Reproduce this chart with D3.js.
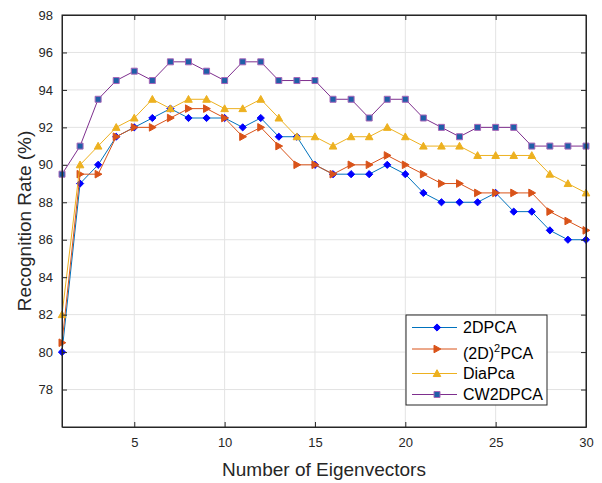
<!DOCTYPE html>
<html>
<head>
<meta charset="utf-8">
<script src="https://cdn.jsdelivr.net/npm/d3@7"></script>
<style>
  body { margin: 0; background: #fff; }
  svg { font-family: "Liberation Sans", Arial, sans-serif; }
</style>
</head>
<body>
<div class="chart"></div>
<script>
// x values (number of eigenvectors)
let eigen = d3.range(1, 31)
let yTicks = [78, 80, 82, 84, 86, 88, 90, 92, 94, 96, 98]
let xTicks = [5, 10, 15, 20, 25, 30]

let pca2d = [80, 89, 90, 91.5, 92, 92.5, 93, 92.5, 92.5, 92.5, 92, 92.5, 91.5, 91.5, 90,
    89.5, 89.5, 89.5, 90, 89.5, 88.5, 88, 88, 88, 88.5, 87.5, 87.5, 86.5, 86, 86]
let pca2d2 = [80.5, 89.5, 89.5, 91.5, 92, 92, 92.5, 93, 93, 92.5, 91.5, 92, 91, 90, 90,
    89.5, 90, 90, 90.5, 90, 89.5, 89, 89, 88.5, 88.5, 88.5, 88.5, 87.5, 87, 86.5]
let diaPca = [82, 90, 91, 92, 92.5, 93.5, 93, 93.5, 93.5, 93, 93, 93.5, 92.5, 91.5, 91.5,
    91, 91.5, 91.5, 92, 91.5, 91, 91, 91, 90.5, 90.5, 90.5, 90.5, 89.5, 89, 88.5]
let cw2dpca = [89.5, 91, 93.5, 94.5, 95, 94.5, 95.5, 95.5, 95, 94.5, 95.5, 95.5, 94.5, 94.5, 94.5,
    93.5, 93.5, 92.5, 93.5, 93.5, 92.5, 92, 91.5, 92, 92, 92, 91, 91, 91, 91]

let series = [
    { name: "2DPCA", values: pca2d, line: "#0072BD", fill: "#0000FF", stroke: "#0000FF", shape: "diamond" },
    { name: "(2D)2PCA", values: pca2d2, line: "#D95319", fill: "#D95319", stroke: "#D95319", shape: "right" },
    { name: "DiaPca", values: diaPca, line: "#EDB120", fill: "#EDB120", stroke: "#EDB120", shape: "up" },
    { name: "CW2DPCA", values: cw2dpca, line: "#7E2F8E", fill: "#1f5fa8", stroke: "#a866b8", shape: "square" }
]

let width = 602, height = 483
let plotLeft = 62, plotRight = 586, plotTop = 15, plotBottom = 427

let x = d3.scaleLinear().domain([1, 30]).range([plotLeft, plotRight])
let y = d3.scaleLinear().domain([76, 98]).range([plotBottom, plotTop])

let svg = d3.select(".chart").append("svg")
    .attr("width", width)
    .attr("height", height)

// grid
let grid = svg.append("g")
grid.selectAll("line.gx").data(xTicks).enter().append("line")
    .attr("x1", d => x(d)).attr("x2", d => x(d))
    .attr("y1", plotTop).attr("y2", plotBottom)
    .attr("stroke", "#e3e3e3").attr("stroke-width", 1)
grid.selectAll("line.gy").data(yTicks).enter().append("line")
    .attr("x1", plotLeft).attr("x2", plotRight)
    .attr("y1", d => y(d)).attr("y2", d => y(d))
    .attr("stroke", "#e3e3e3").attr("stroke-width", 1)

// marker path generator
function markerPath(shape) {
    if (shape == "diamond") return "M0,-3.6L3.6,0L0,3.6L-3.6,0Z"
    if (shape == "right") return "M-3,-3.8L3.8,0L-3,3.8Z"
    if (shape == "up") return "M0,-3.8L3.8,3L-3.8,3Z"
    return "M-3,-3H3V3H-3Z"
}

let line = d3.line()
    .x((d, i) => x(eigen[i]))
    .y(d => y(d))

series.forEach(s => {
    let g = svg.append("g")
    g.append("path")
        .datum(s.values)
        .attr("fill", "none")
        .attr("stroke", s.line)
        .attr("stroke-width", 1)
        .attr("d", line)
    g.selectAll("path.m")
        .data(s.values)
        .enter()
        .append("path")
        .attr("transform", (d, i) => `translate(${x(eigen[i])},${y(d)})`)
        .attr("d", markerPath(s.shape))
        .attr("fill", s.fill)
        .attr("stroke", s.stroke)
        .attr("stroke-width", 1)
})

// axes
let axisColor = "#262626"
let xAxis = svg.append("g").attr("transform", `translate(0,${plotBottom})`)
    .call(d3.axisBottom(x).tickValues(xTicks).tickSizeInner(-5).tickSizeOuter(0).tickPadding(11))
let xTop = svg.append("g").attr("transform", `translate(0,${plotTop})`)
    .call(d3.axisTop(x).tickValues(xTicks).tickSizeInner(-5).tickSizeOuter(0).tickFormat(""))
let yAxis = svg.append("g").attr("transform", `translate(${plotLeft},0)`)
    .call(d3.axisLeft(y).tickValues(yTicks).tickSizeInner(-5).tickSizeOuter(0).tickPadding(9))
let yRight = svg.append("g").attr("transform", `translate(${plotRight},0)`)
    .call(d3.axisRight(y).tickValues(yTicks).tickSizeInner(-5).tickSizeOuter(0).tickFormat(""))

;[xAxis, xTop, yAxis, yRight].forEach(a => {
    a.select(".domain").attr("stroke", axisColor)
    a.selectAll(".tick line").attr("stroke", axisColor)
    a.selectAll("text").attr("fill", axisColor).attr("font-size", 13)
        .attr("font-family", "Liberation Sans, Arial, sans-serif")
})
svg.append("rect")
    .attr("x", plotLeft).attr("y", plotTop)
    .attr("width", plotRight - plotLeft).attr("height", plotBottom - plotTop)
    .attr("fill", "none").attr("stroke", axisColor).attr("stroke-width", 1)

// axis labels
svg.append("text")
    .attr("x", 324)
    .attr("y", 476)
    .attr("text-anchor", "middle")
    .attr("font-size", 19)
    .attr("fill", axisColor)
    .text("Number of Eigenvectors")
svg.append("text")
    .attr("transform", "translate(31,221) rotate(-90)")
    .attr("text-anchor", "middle")
    .attr("font-size", 19)
    .attr("fill", axisColor)
    .text("Recognition Rate (%)")

// legend
let legend = svg.append("g")
legend.append("rect")
    .attr("x", 406).attr("y", 315)
    .attr("width", 141).attr("height", 90)
    .attr("fill", "#fff")
    .attr("stroke", axisColor)
    .attr("stroke-width", 1)
let rowY = [327.5, 349, 373.5, 394.5]
series.forEach((s, i) => {
    let row = legend.append("g").attr("transform", `translate(0,${rowY[i]})`)
    row.append("line")
        .attr("x1", 412).attr("x2", 457)
        .attr("stroke", s.line).attr("stroke-width", 1)
    row.append("path")
        .attr("transform", "translate(437,0)")
        .attr("d", markerPath(s.shape))
        .attr("fill", s.fill)
        .attr("stroke", s.stroke)
    let t = row.append("text")
        .attr("x", 463)
        .attr("y", 5.5)
        .attr("font-size", 16)
        .attr("fill", "#000")
    if (s.name == "(2D)2PCA") {
        t.attr("y", 9.5)
        t.append("tspan").text("(2D)")
        t.append("tspan").attr("dy", -7).attr("font-size", 11).text("2")
        t.append("tspan").attr("dy", 7).text("PCA")
    } else {
        t.text(s.name)
    }
})
</script>
</body>
</html>
